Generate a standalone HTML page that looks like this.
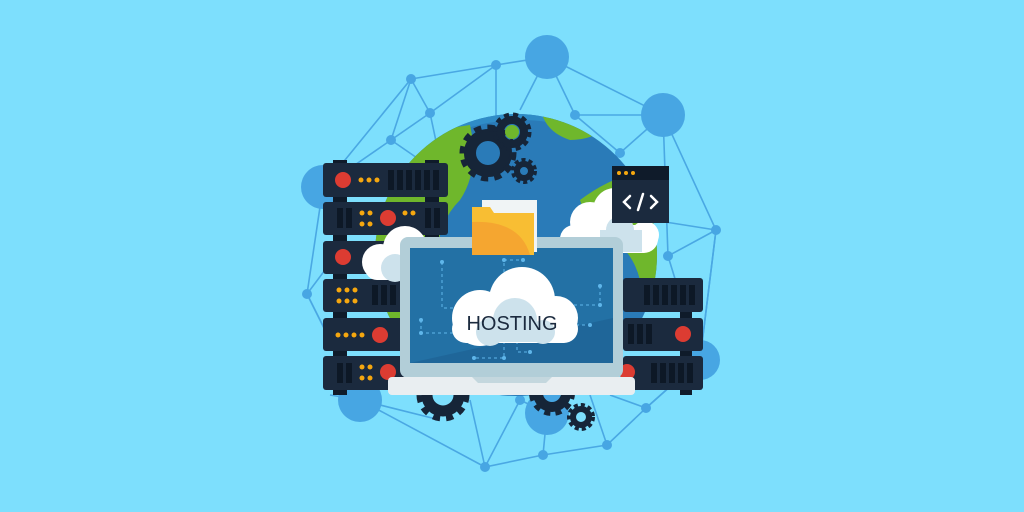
<!DOCTYPE html>
<html><head><meta charset="utf-8"><style>html,body{margin:0;padding:0;background:#7ddffd;}svg{display:block}</style></head>
<body>
<svg width="1024" height="512" viewBox="0 0 1024 512" xmlns="http://www.w3.org/2000/svg">
<rect width="1024" height="512" fill="#7ddffd"/>
<!-- network -->
<g stroke="#4aa8e3" stroke-width="1.6" fill="none">
<polyline points="411,79 496,65 547,57 663,115 716,230 700,360 646,408 607,445 543,455 485,467 360,400 307,294 323,187 411,79"/>
<line x1="411" y1="79" x2="430" y2="113"/><line x1="430" y1="113" x2="391" y2="140"/><line x1="391" y1="140" x2="323" y2="187"/>
<line x1="411" y1="79" x2="391" y2="140"/><line x1="430" y1="113" x2="496" y2="65"/><line x1="496" y1="65" x2="496" y2="130"/>
<line x1="547" y1="57" x2="575" y2="115"/><line x1="575" y1="115" x2="663" y2="115"/><line x1="575" y1="115" x2="620" y2="153"/>
<line x1="663" y1="115" x2="620" y2="153"/><line x1="663" y1="115" x2="668" y2="256"/><line x1="668" y1="256" x2="716" y2="230"/>
<line x1="716" y1="230" x2="640" y2="218"/><line x1="668" y1="256" x2="700" y2="360"/><line x1="716" y1="230" x2="700" y2="360"/>
<line x1="307" y1="294" x2="360" y2="400"/><line x1="307" y1="294" x2="340" y2="250"/><line x1="360" y1="400" x2="440" y2="420"/>
<line x1="485" y1="467" x2="470" y2="400"/><line x1="485" y1="467" x2="520" y2="400"/><line x1="520" y1="400" x2="547" y2="413"/>
<line x1="543" y1="455" x2="547" y2="413"/><line x1="607" y1="445" x2="590" y2="395"/><line x1="646" y1="408" x2="610" y2="395"/>
<line x1="646" y1="408" x2="700" y2="360"/><line x1="430" y1="113" x2="440" y2="160"/><line x1="547" y1="57" x2="520" y2="110"/>
<line x1="391" y1="140" x2="420" y2="160"/><line x1="360" y1="400" x2="330" y2="395"/>
</g>
<g fill="#47a6e3">
<circle cx="547" cy="57" r="22"/><circle cx="663" cy="115" r="22"/><circle cx="323" cy="187" r="22"/><circle cx="700" cy="360" r="20"/>
<circle cx="360" cy="400" r="22"/><circle cx="547" cy="413" r="22"/>
<circle cx="411" cy="79" r="5"/><circle cx="496" cy="65" r="5"/><circle cx="575" cy="115" r="5"/><circle cx="430" cy="113" r="5"/>
<circle cx="391" cy="140" r="5"/><circle cx="307" cy="294" r="5"/><circle cx="716" cy="230" r="5"/><circle cx="668" cy="256" r="5"/>
<circle cx="620" cy="153" r="5"/><circle cx="646" cy="408" r="5"/><circle cx="607" cy="445" r="5"/><circle cx="543" cy="455" r="5"/>
<circle cx="485" cy="467" r="5"/><circle cx="520" cy="400" r="5"/>
</g>
<!-- globe -->
<clipPath id="g"><circle cx="516" cy="255" r="141"/></clipPath>
<circle cx="516" cy="255" r="141" fill="#2a7bb8"/>
<g clip-path="url(#g)">
<path d="M420,150 Q516,90 630,150 L630,125 Q516,70 420,125 Z" fill="#2f8cc7"/>
<g fill="#6fb72c">
<path d="M370,140 L470,125 Q480,170 460,200 Q430,230 440,280 Q420,320 380,330 Z"/>
<path d="M540,100 L620,100 Q610,140 570,140 Q540,130 540,100 Z"/>
<path d="M580,200 Q620,170 660,170 L670,330 Q640,320 640,280 Q630,240 590,230 Z"/>
</g>
</g>
<!-- gears -->
<g fill="none" stroke="#162538">
<circle cx="488" cy="153" r="18" stroke-width="12"/><circle cx="488" cy="153" r="25" stroke-width="7" stroke-dasharray="7 6"/>
<circle cx="512" cy="132" r="12" stroke-width="8"/><circle cx="512" cy="132" r="17" stroke-width="5" stroke-dasharray="5 4"/>
<circle cx="524" cy="171" r="7" stroke-width="6"/><circle cx="524" cy="171" r="11" stroke-width="4" stroke-dasharray="4 3"/>
<circle cx="443" cy="395" r="16" stroke-width="11"/><circle cx="443" cy="395" r="23" stroke-width="7" stroke-dasharray="7 6"/>
<circle cx="552" cy="393" r="14" stroke-width="10"/><circle cx="552" cy="393" r="20" stroke-width="6" stroke-dasharray="6 5"/>
<circle cx="581" cy="417" r="8" stroke-width="6"/><circle cx="581" cy="417" r="12" stroke-width="4" stroke-dasharray="4 3"/>
</g>
<circle cx="512" cy="132" r="7" fill="#6fb72c"/>
<!-- servers -->
<rect x="333" y="160" width="14" height="235" fill="#0f1b2a"/>
<rect x="425" y="160" width="14" height="235" fill="#0f1b2a"/>
<rect x="680" y="300" width="12" height="95" fill="#0f1b2a"/>
<g fill="#1b2a3e">
<rect x="323" y="163" width="125" height="34" rx="3"/><rect x="323" y="202" width="125" height="33" rx="3"/>
<rect x="323" y="241" width="125" height="33" rx="3"/><rect x="323" y="279" width="125" height="33" rx="3"/>
<rect x="323" y="318" width="125" height="33" rx="3"/><rect x="323" y="356" width="125" height="34" rx="3"/>
<rect x="623" y="278" width="80" height="34" rx="3"/><rect x="623" y="318" width="80" height="33" rx="3"/><rect x="623" y="356" width="80" height="34" rx="3"/>
</g>
<g fill="#0d1826">
<rect x="388" y="170" width="6" height="20"/><rect x="397" y="170" width="6" height="20"/><rect x="406" y="170" width="6" height="20"/><rect x="415" y="170" width="6" height="20"/><rect x="424" y="170" width="6" height="20"/><rect x="433" y="170" width="6" height="20"/>
<rect x="337" y="208" width="6" height="20"/><rect x="346" y="208" width="6" height="20"/><rect x="425" y="208" width="6" height="20"/><rect x="434" y="208" width="6" height="20"/>
<rect x="372" y="285" width="6" height="20"/><rect x="381" y="285" width="6" height="20"/><rect x="390" y="285" width="6" height="20"/>
<rect x="337" y="363" width="6" height="20"/><rect x="346" y="363" width="6" height="20"/>
<rect x="644" y="285" width="6" height="20"/><rect x="653" y="285" width="6" height="20"/><rect x="662" y="285" width="6" height="20"/><rect x="671" y="285" width="6" height="20"/><rect x="680" y="285" width="6" height="20"/><rect x="689" y="285" width="6" height="20"/>
<rect x="628" y="324" width="6" height="20"/><rect x="637" y="324" width="6" height="20"/><rect x="646" y="324" width="6" height="20"/>
<rect x="651" y="363" width="6" height="20"/><rect x="660" y="363" width="6" height="20"/><rect x="669" y="363" width="6" height="20"/><rect x="678" y="363" width="6" height="20"/><rect x="687" y="363" width="6" height="20"/>
</g>
<g fill="#dc3c32">
<circle cx="343" cy="180" r="8"/><circle cx="388" cy="218" r="8"/><circle cx="343" cy="257" r="8"/><circle cx="380" cy="335" r="8"/><circle cx="388" cy="372" r="8"/>
<circle cx="683" cy="334" r="8"/><circle cx="627" cy="372" r="8"/>
</g>
<g fill="#f5a70f">
<circle cx="361" cy="180" r="2.5"/><circle cx="369" cy="180" r="2.5"/><circle cx="377" cy="180" r="2.5"/>
<circle cx="362" cy="213" r="2.5"/><circle cx="370" cy="213" r="2.5"/><circle cx="362" cy="224" r="2.5"/><circle cx="370" cy="224" r="2.5"/>
<circle cx="405" cy="213" r="2.5"/><circle cx="413" cy="213" r="2.5"/>
<circle cx="339" cy="290" r="2.5"/><circle cx="347" cy="290" r="2.5"/><circle cx="355" cy="290" r="2.5"/><circle cx="339" cy="301" r="2.5"/><circle cx="347" cy="301" r="2.5"/><circle cx="355" cy="301" r="2.5"/>
<circle cx="338" cy="335" r="2.5"/><circle cx="346" cy="335" r="2.5"/><circle cx="354" cy="335" r="2.5"/><circle cx="362" cy="335" r="2.5"/>
<circle cx="362" cy="367" r="2.5"/><circle cx="370" cy="367" r="2.5"/><circle cx="362" cy="378" r="2.5"/><circle cx="370" cy="378" r="2.5"/>
</g>
<!-- clouds back -->
<g fill="#ffffff">
<circle cx="380" cy="262" r="18"/><circle cx="405" cy="248" r="22"/><circle cx="430" cy="258" r="16"/><rect x="365" y="255" width="80" height="25" rx="12"/>
<circle cx="590" cy="222" r="20"/><circle cx="615" cy="210" r="22"/><circle cx="645" cy="235" r="14"/><rect x="560" y="225" width="98" height="28" rx="14"/>
</g>
<g fill="#cde2ec"><circle cx="395" cy="268" r="14"/><circle cx="620" cy="230" r="14"/><rect x="600" y="230" width="42" height="22"/></g>
<!-- code window -->
<rect x="612" y="166" width="57" height="57" fill="#1b2a3e"/><rect x="612" y="166" width="57" height="14" fill="#0f1b2a"/>
<g fill="#f5a70f"><circle cx="619" cy="173" r="2"/><circle cx="626" cy="173" r="2"/><circle cx="633" cy="173" r="2"/></g>
<g stroke="#fff" stroke-width="2.5" fill="none" stroke-linecap="round"><polyline points="630,196 624,202 630,208"/><polyline points="651,196 657,202 651,208"/><line x1="643" y1="194" x2="638" y2="210"/></g>
<!-- laptop -->
<rect x="400" y="237" width="223" height="141" rx="8" fill="#b2ced8"/>
<rect x="410" y="248" width="203" height="115" fill="#2371a5"/>
<path d="M410,363 L613,318 L613,363 Z" fill="#1f6699"/>
<rect x="388" y="377" width="247" height="18" rx="4" fill="#e9eef1"/>
<path d="M472,377 L552,377 L546,383 L478,383 Z" fill="#c4d7de"/>
<!-- folder -->
<rect x="482" y="200" width="55" height="52" fill="#f0f4f5"/>
<path d="M472,207 L490,207 L494,213 L534,213 L534,255 L472,255 Z" fill="#f8be33"/>
<path d="M472,222 Q520,220 530,255 L472,255 Z" fill="#f5a630"/>
<!-- dashed lines -->
<g stroke="#5fb6ea" stroke-width="1" stroke-dasharray="3 3" fill="none">
<polyline points="442,262 442,308 460,308"/><polyline points="504,290 504,260 523,260"/><polyline points="600,286 600,305 553,305"/>
<polyline points="421,320 421,333 465,333"/><polyline points="570,325 590,325"/><polyline points="504,335 504,358 474,358"/><polyline points="517,335 517,352 530,352"/>
</g>
<g fill="#5fb6ea"><circle cx="442" cy="262" r="2"/><circle cx="504" cy="260" r="2"/><circle cx="523" cy="260" r="2"/><circle cx="600" cy="286" r="2"/><circle cx="600" cy="305" r="2"/><circle cx="421" cy="320" r="2"/><circle cx="421" cy="333" r="2"/><circle cx="590" cy="325" r="2"/><circle cx="474" cy="358" r="2"/><circle cx="504" cy="358" r="2"/><circle cx="530" cy="352" r="2"/></g>
<!-- hosting cloud -->
<g fill="#ffffff">
<circle cx="480" cy="318" r="28"/><circle cx="522" cy="300" r="33"/><circle cx="556" cy="318" r="22"/><rect x="452" y="315" width="126" height="28" rx="14"/>
</g>
<g fill="#cde2ec"><circle cx="515" cy="320" r="22"/><circle cx="490" cy="332" r="14"/><circle cx="543" cy="332" r="12"/><rect x="480" y="325" width="70" height="17"/></g>
<text x="512" y="330" font-family="Liberation Sans, sans-serif" font-size="20" fill="#1b2a3e" text-anchor="middle">HOSTING</text>
</svg>
</body></html>
